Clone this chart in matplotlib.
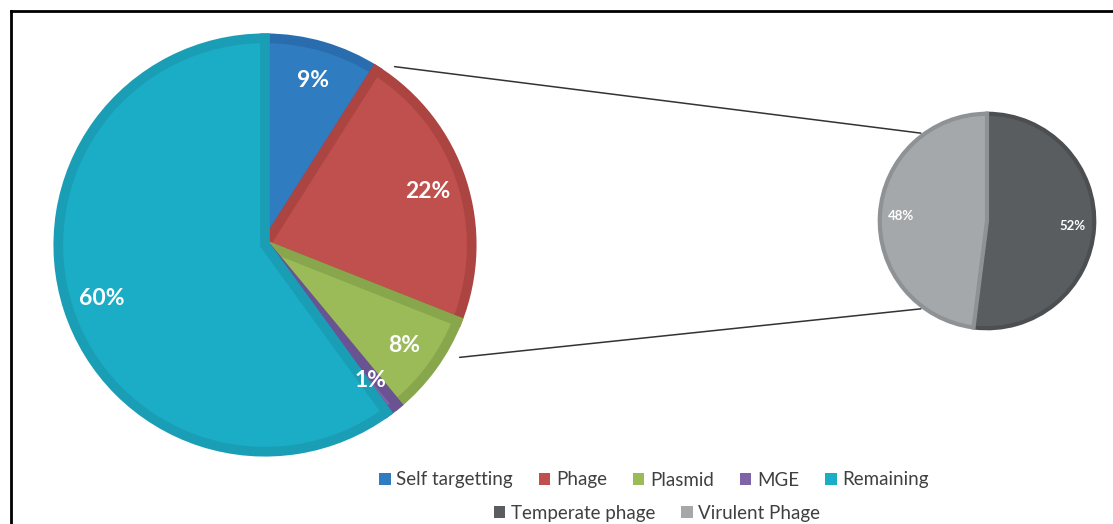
import numpy as np
import matplotlib.pyplot as plt
from matplotlib.patches import ConnectionPatch, Patch
from matplotlib.lines import Line2D

# main pie
main_labels = ["Self targetting", "Phage", "Plasmid", "MGE", "Remaining"]
main_values = [9, 22, 8, 1, 60]
main_colors = ["#2F7DC0", "#C0504D", "#9BBB59", "#7E63A6", "#1CADC6"]
main_edges = ["#2A6DAE", "#AC4441", "#88A74C", "#6A5392", "#1A9EB6"]

# secondary pie (breakdown of phage)
sub_labels = ["Temperate phage", "Virulent Phage"]
sub_values = [52, 48]
sub_colors = ["#5A5D5F", "#A5A8AA"]
sub_edges = ["#4C4F51", "#8F9294"]

W, H = 1113, 524
fig = plt.figure(figsize=(W / 100, H / 100), dpi=100)
plt.rcParams['font.family'] = ['Lato', 'DejaVu Sans']


def px_axes(cx, cy, r):
    return fig.add_axes([(cx - r) / W, (H - cy - r) / H, 2 * r / W, 2 * r / H])


ax1 = px_axes(265, 245, 212)
wedges, _, autotexts = ax1.pie(main_values, colors=main_colors, startangle=90, counterclock=False,
                               radius=0.975, autopct='%d%%', pctdistance=0.83,
                               wedgeprops=dict(linewidth=7, joinstyle='miter'),
                               textprops=dict(color='white', fontsize=16.5, fontweight='bold'))
for w, ec in zip(wedges, main_edges):
    w.set_edgecolor(ec)
ax1.set_xlim(-1, 1)
ax1.set_ylim(-1, 1)
ax1.axis('off')

ax2 = px_axes(987, 221, 110)
wedges2, _, autotexts2 = ax2.pie(sub_values, colors=sub_colors, startangle=90, counterclock=False,
                                 radius=0.975, autopct='%d%%', pctdistance=0.8,
                                 wedgeprops=dict(linewidth=3),
                                 textprops=dict(color='white', fontsize=9.5, fontweight='bold'))
for w, ec in zip(wedges2, sub_edges):
    w.set_edgecolor(ec)
ax2.set_xlim(-1, 1)
ax2.set_ylim(-1, 1)
ax2.axis('off')

# connector lines
for a1, d1, a2 in [(54, 1.04, 127), (-30, 1.06, -127)]:
    p1 = (d1 * np.cos(np.radians(a1)), d1 * np.sin(np.radians(a1)))
    p2 = (np.cos(np.radians(a2)), np.sin(np.radians(a2)))
    con = ConnectionPatch(xyA=p1, coordsA=ax1.transData, xyB=p2, coordsB=ax2.transData,
                          color='#333333', linewidth=1.1)
    fig.add_artist(con)

# legends
h1 = [Patch(facecolor=c, edgecolor='none') for c in main_colors]
h2 = [Patch(facecolor=c, edgecolor='none') for c in sub_colors]
leg1 = fig.legend(h1, main_labels, loc='center', bbox_to_anchor=(654 / W, 1 - 480 / H), ncol=5,
                  frameon=False, fontsize=13.5, handlelength=0.6, handleheight=0.6,
                  handletextpad=0.3, columnspacing=1.4, labelcolor='#404040')
leg2 = fig.legend(h2, sub_labels, loc='center', bbox_to_anchor=(657 / W, 1 - 513 / H), ncol=2,
                  frameon=False, fontsize=13.5, handlelength=0.6, handleheight=0.6,
                  handletextpad=0.3, columnspacing=1.4, labelcolor='#404040')

# border (open at right and bottom, as in the cropped figure)
fig.add_artist(Line2D([11 / W, 1], [1 - 11 / H, 1 - 11 / H], color='black', linewidth=2))
fig.add_artist(Line2D([11 / W, 11 / W], [1 - 11 / H, 0], color='black', linewidth=2))

fig.savefig("out.png", dpi=100)
